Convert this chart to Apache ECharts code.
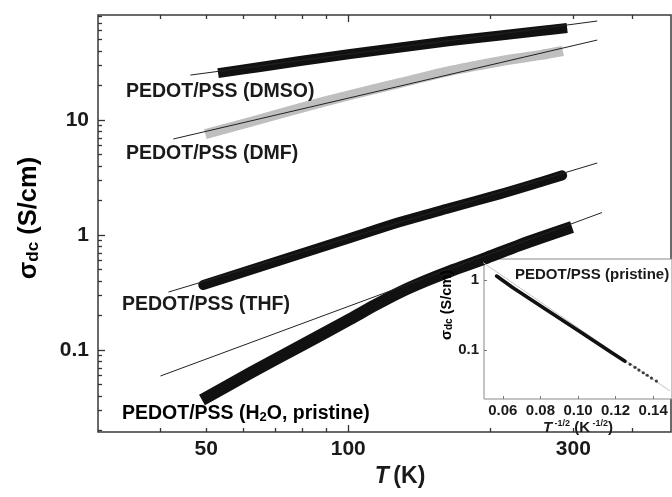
<!DOCTYPE html>
<html>
<head>
<meta charset="utf-8">
<script src="https://cdn.jsdelivr.net/npm/echarts@6/dist/echarts.min.js"></script>
<style>
  html, body { margin: 0; padding: 0; background: #fff; }
  #chart { width: 672px; height: 497px; }
</style>
</head>
<body>
<div id="chart"></div>
<script>
// dc conductivity of PEDOT/PSS films vs temperature (log-log), with a
// T^-1/2 inset for the pristine film.

// ---- main panel: temperature (K) and sigma_dc (S/cm) ----
const dmsoT      = [53.0, 65.1, 79.1, 101, 128.9, 164.5, 210, 255, 291];
const dmsoSigma  = [25.6, 28.9, 32.6, 37.5, 42.7, 48.6, 54.3, 59.4, 63.1];
const dmfT       = [49.8, 62.0, 79.1, 101, 128.9, 156.6, 190.5, 223.7, 255, 285];
const dmfSigma   = [7.55, 9.61, 12.7, 16.5, 21.0, 25.6, 30.1, 33.9, 36.7, 39.8];
const thfT       = [49.3, 62.0, 79.1, 101, 128.9, 164.5, 210, 255, 284];
const thfSigma   = [0.367, 0.496, 0.684, 0.942, 1.30, 1.72, 2.27, 2.88, 3.30];
const h2oT       = [49.0, 62.0, 79.1, 101, 114.1, 128.9, 145.6, 164.5, 193.2, 231, 298];
const h2oSigma   = [0.0367, 0.0631, 0.108, 0.186, 0.246, 0.319, 0.398, 0.486, 0.618, 0.818, 1.174];

// power-law fit lines (end points)
const dmsoFitT = [46.3, 337];  const dmsoFitSigma = [24.6, 72.6];
const dmfFitT  = [42.6, 337];  const dmfFitSigma  = [6.84, 49.6];
const thfFitT  = [41.6, 337];  const thfFitSigma  = [0.319, 4.23];
const h2oFitT  = [40.0, 345];  const h2oFitSigma  = [0.0594, 1.569];

// curve labels
const labelDMSO = 'PEDOT/PSS (DMSO)';
const labelDMF  = 'PEDOT/PSS (DMF)';
const labelTHF  = 'PEDOT/PSS (THF)';

// axis ticks
const xTickLabels = [50, 100, 300];
const xMajorTicks = [100];
const xMinorTicks = [40, 50, 60, 70, 80, 90, 200, 300, 400];
const yTickLabels = [0.1, 1, 10];
const yMajorTicks = [0.1, 1, 10];
const yMinorTicks = [0.02, 0.03, 0.04, 0.05, 0.06, 0.07, 0.08, 0.09,
                     0.2, 0.3, 0.4, 0.5, 0.6, 0.7, 0.8, 0.9,
                     2, 3, 4, 5, 6, 7, 8, 9,
                     20, 30, 40, 50, 60, 70, 80];

// ---- inset: pristine film, sigma_dc vs T^-1/2 ----
const insetX          = [0.0567, 0.0654, 0.0830, 0.1005, 0.118, 0.125];
const insetSigma      = [1.14, 0.776, 0.381, 0.187, 0.0915, 0.0692];
const insetTailX      = [0.1277, 0.1303, 0.1324, 0.1347, 0.1368, 0.1391, 0.1417];
const insetTailSigma  = [0.0625, 0.0566, 0.0518, 0.0474, 0.0437, 0.0398, 0.0361];
const insetFitX       = [0.0496, 0.149];
const insetFitSigma   = [1.77, 0.026];
const insetXTicks     = [0.06, 0.08, 0.10, 0.12, 0.14];
const insetYTicks     = [0.1, 1];
const insetTitle      = 'PEDOT/PSS (pristine)';

const FONT = '"Liberation Sans", Arial, Helvetica, sans-serif';
const INK = '#1a1a1a';
const AXIS = '#333';

const T_RANGE = [29.5, 483];
const S_RANGE = [0.01936, 81.9];

const pairs = (xs, ys) => xs.map((x, i) => [x, ys[i]]);
const num = v => String(+(+v).toPrecision(3));

function mainX(position, ticks, len, labels, extra) {
  return Object.assign({
    type: 'log', gridIndex: 0, position: position,
    min: T_RANGE[0], max: T_RANGE[1],
    axisLine: { show: false },
    splitLine: { show: false },
    axisTick: { show: true, inside: true, length: len, customValues: ticks,
                lineStyle: { color: AXIS, width: 1.3 } },
    axisLabel: labels ? { show: true, customValues: labels, formatter: num,
                fontFamily: FONT, fontWeight: 'bold', fontSize: 21, color: INK, margin: 7 }
              : { show: false }
  }, extra || {});
}

function mainY(ticks, len, labels, extra) {
  return Object.assign({
    type: 'log', gridIndex: 0, position: 'left',
    min: S_RANGE[0], max: S_RANGE[1],
    axisLine: { show: false },
    splitLine: { show: false },
    axisTick: { show: true, inside: true, length: len, customValues: ticks,
                lineStyle: { color: AXIS, width: 1.3 } },
    axisLabel: labels ? { show: true, customValues: labels, formatter: num,
                fontFamily: FONT, fontWeight: 'bold', fontSize: 21, color: INK, margin: 9 }
              : { show: false }
  }, extra || {});
}

function band(name, xs, ys, color, width, cap) {
  return {
    name: name, type: 'line', xAxisIndex: 0, yAxisIndex: 0,
    data: pairs(xs, ys), symbol: 'none', smooth: 0.3,
    lineStyle: { color: color, width: width, cap: cap, join: 'round' },
    z: 3
  };
}

function fit(xs, ys) {
  return {
    type: 'line', xAxisIndex: 0, yAxisIndex: 0,
    data: pairs(xs, ys), symbol: 'none',
    lineStyle: { color: '#222', width: 1 }, z: 4
  };
}

const richBold = (size) => ({ fontFamily: FONT, fontWeight: 'bold', fontSize: size, color: INK });

const chart = echarts.init(document.getElementById('chart'), null, { renderer: 'canvas' });

chart.setOption({
  animation: false,
  backgroundColor: '#fff',
  grid: [
    { left: 98, top: 15, width: 573, height: 417, show: true, z: 0,
      borderColor: '#3a3a3a', borderWidth: 1.5, backgroundColor: 'transparent', containLabel: false },
    { left: 484, top: 259, width: 190, height: 140, show: true, z: 1,
      borderColor: '#8a8a8a', borderWidth: 1, backgroundColor: '#fff', containLabel: false }
  ],
  xAxis: [
    mainX('bottom', xMajorTicks, 7, xTickLabels, {
      name: '{i|T}{n|\u2009(K)}', nameLocation: 'middle', nameGap: 30,
      nameTextStyle: {
        padding: [0, 0, 0, 31],
        rich: {
          i: Object.assign(richBold(23), { fontStyle: 'italic' }),
          n: richBold(23)
        }
      }
    }),
    mainX('bottom', xMinorTicks, 4, null),
    mainX('top', xMajorTicks, 7, null),
    mainX('top', xMinorTicks, 4, null),
    {
      type: 'value', gridIndex: 1, min: 0.05, max: 0.15, z: 2,
      axisLine: { show: false }, splitLine: { show: false },
      axisTick: { show: true, inside: true, length: 3, customValues: insetXTicks,
                  lineStyle: { color: '#777', width: 1 } },
      axisLabel: { show: true, customValues: insetXTicks, formatter: v => (+v).toFixed(2),
                   fontFamily: FONT, fontWeight: 'bold', fontSize: 15, color: INK, margin: 4 },
      name: '{i|T}{sup| -1/2}{n| (K}{sup| -1/2}{n|)}', nameLocation: 'middle', nameGap: 16,
      nameTextStyle: {
        rich: {
          i: Object.assign(richBold(15), { fontStyle: 'italic', lineHeight: 16, verticalAlign: 'bottom' }),
          n: Object.assign(richBold(15), { lineHeight: 16, verticalAlign: 'bottom' }),
          sup: Object.assign(richBold(9), { lineHeight: 16, verticalAlign: 'top', padding: [0, 0, 6, 0] })
        }
      }
    }
  ],
  yAxis: [
    mainY(yMajorTicks, 7, yTickLabels),
    mainY(yMinorTicks, 4, null),
    {
      type: 'log', gridIndex: 1, min: 0.02, max: 2, z: 2,
      axisLine: { show: false }, splitLine: { show: false },
      axisTick: { show: true, inside: true, length: 3, customValues: insetYTicks,
                  lineStyle: { color: '#777', width: 1 } },
      axisLabel: { show: true, customValues: insetYTicks, formatter: num,
                   fontFamily: FONT, fontWeight: 'bold', fontSize: 15, color: INK, margin: 5 }
    }
  ],
  series: [
    band('DMSO', dmsoT, dmsoSigma, '#111', 10, 'butt'),
    band('DMF', dmfT, dmfSigma, '#bfbfbf', 10, 'butt'),
    band('THF', thfT, thfSigma, '#111', 10, 'round'),
    band('H2O', h2oT, h2oSigma, '#111', 12, 'butt'),
    fit(dmsoFitT, dmsoFitSigma),
    fit(dmfFitT, dmfFitSigma),
    fit(thfFitT, thfFitSigma),
    fit(h2oFitT, h2oFitSigma),
    {
      type: 'line', xAxisIndex: 4, yAxisIndex: 2,
      data: pairs(insetFitX, insetFitSigma), symbol: 'none',
      lineStyle: { color: '#c4c4c4', width: 1 }, z: 3
    },
    {
      type: 'line', xAxisIndex: 4, yAxisIndex: 2,
      data: pairs(insetX, insetSigma), symbol: 'none',
      lineStyle: { color: '#111', width: 3.6, cap: 'round' }, z: 4
    },
    {
      type: 'scatter', xAxisIndex: 4, yAxisIndex: 2,
      data: pairs(insetTailX, insetTailSigma), symbol: 'circle', symbolSize: 3.2,
      itemStyle: { color: '#111' }, z: 4
    }
  ],
  graphic: [
    // main y-axis title
    { type: 'text', x: 28, y: 218, rotation: Math.PI / 2, z: 10,
      style: {
        text: '{s|σ}{sub|dc}{s| (S/cm)}', align: 'center', verticalAlign: 'middle',
        rich: {
          s: Object.assign(richBold(25.5), { lineHeight: 28, verticalAlign: 'bottom' }),
          sub: Object.assign(richBold(17), { lineHeight: 12, verticalAlign: 'bottom' })
        }
      } },
    // inset y-axis title
    { type: 'text', x: 446, y: 305, rotation: Math.PI / 2, z: 10,
      style: {
        text: '{s|σ}{sub|dc}{s| (S/cm)}', align: 'center', verticalAlign: 'middle',
        rich: {
          s: Object.assign(richBold(14.5), { lineHeight: 16, verticalAlign: 'bottom' }),
          sub: Object.assign(richBold(10), { lineHeight: 7, verticalAlign: 'bottom' })
        }
      } },
    { type: 'text', x: 126, y: 92, z: 10,
      style: { text: labelDMSO, font: 'bold 19.5px ' + FONT, fill: INK, verticalAlign: 'middle' } },
    { type: 'text', x: 126, y: 153.5, z: 10,
      style: { text: labelDMF, font: 'bold 19.5px ' + FONT, fill: INK, verticalAlign: 'middle' } },
    { type: 'text', x: 122, y: 305, z: 10,
      style: { text: labelTHF, font: 'bold 19.5px ' + FONT, fill: INK, verticalAlign: 'middle' } },
    { type: 'text', x: 122, y: 412.5, z: 10,
      style: {
        text: '{a|PEDOT/PSS (H}{s|2}{a|O, pristine)}',
        verticalAlign: 'middle',
        rich: {
          a: Object.assign(richBold(19.5), { lineHeight: 22, verticalAlign: 'bottom' }),
          s: Object.assign(richBold(13), { lineHeight: 8, verticalAlign: 'bottom' })
        }
      } },
    { type: 'text', x: 515, y: 275, z: 10,
      style: { text: insetTitle, font: 'bold 15px ' + FONT, fill: INK, verticalAlign: 'middle' } }
  ]
});
</script>
</body>
</html>
